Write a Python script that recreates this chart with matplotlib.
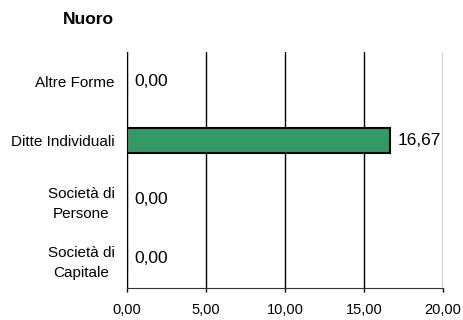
import matplotlib
matplotlib.use("Agg")
import matplotlib.pyplot as plt

plt.rcParams['font.family'] = ['Liberation Sans', 'DejaVu Sans']

# data (top to bottom)
categories = ["Altre Forme", "Ditte Individuali", "Società di\nPersone", "Società di\nCapitale"]
values = [0.00, 16.67, 0.00, 0.00]
xticks = [0, 5, 10, 15, 20]

def fmt(v):
    return f"{v:.2f}".replace(".", ",")

fig = plt.figure(figsize=(4.64, 3.2), dpi=100)
ax = fig.add_axes([127/464, 1 - 288/320, (443 - 127)/464, (288 - 52)/320])

pos = list(range(len(categories)))
ax.barh(pos, values, height=0.41, color="#339966", edgecolor="black", linewidth=1.5, zorder=3)
ax.set_ylim(len(categories) - 0.5, -0.5)
ax.set_xlim(0, 20)

ax.set_yticks(pos)
ax.set_yticklabels(categories, fontsize=11, multialignment="center", linespacing=1.5)
ax.tick_params(axis="y", length=0, pad=9)

ax.set_xticks(xticks)
ax.set_xticklabels([fmt(t) for t in xticks], fontsize=10.5)
ax.tick_params(axis="x", length=3, width=1, pad=8, direction="out")

ax.grid(axis="x", color="black", linewidth=1, zorder=0)
for s in ["top", "right"]:
    ax.spines[s].set_visible(False)
ax.spines["left"].set_color("black")
ax.spines["bottom"].set_color("#333333")

for p, v in zip(pos, values):
    ax.text(v + 0.45, p, fmt(v), va="center", ha="left", fontsize=12.5, zorder=4)

fig.text(88/464, 1 - 20/320, "Nuoro", fontsize=12.5, fontweight="bold", ha="center", va="center")

fig.savefig("out.png", dpi=100)
